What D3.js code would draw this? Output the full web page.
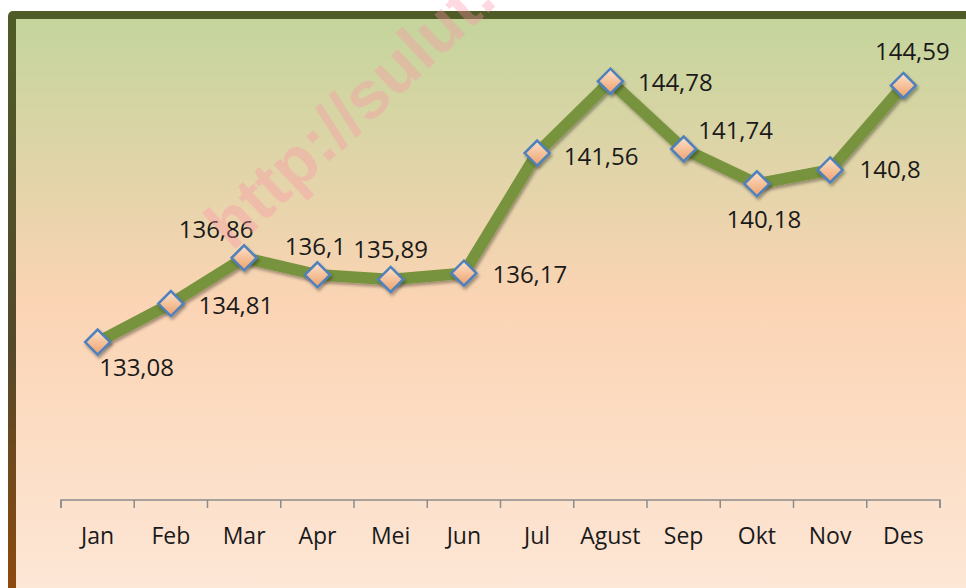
<!DOCTYPE html>
<html><head><meta charset="utf-8">
<script src="https://cdn.jsdelivr.net/npm/d3@7"></script>
<style>html,body{margin:0;padding:0;background:#fff;}svg{display:block;}</style>
</head><body>
<svg id="chart" width="966" height="588"></svg>
<script>
const months = ["Jan","Feb","Mar","Apr","Mei","Jun","Jul","Agust","Sep","Okt","Nov","Des"];
const values = [133.08,134.81,136.86,136.1,135.89,136.17,141.56,144.78,141.74,140.18,140.8,144.59];
const valueLabels = ["133,08","134,81","136,86","136,1","135,89","136,17","141,56","144,78","141,74","140,18","140,8","144,59"];
// label placement offsets relative to each point (layout only)
const labelOffsets = [[39,34],[65,10],[-28,-20],[-2,-20],[0,-21],[66,10],[64,12],[65,10],[52,-10],[7,44],[60,8],[9,-25]];

const W = 966, H = 588;
const svg = d3.select("#chart");
const defs = svg.append("defs");

const frameG = defs.append("linearGradient").attr("id","frameG").attr("x1",0).attr("y1",0).attr("x2",0).attr("y2",1);
frameG.append("stop").attr("offset","0%").attr("stop-color","#4f5c27");
frameG.append("stop").attr("offset","55%").attr("stop-color","#54482a");
frameG.append("stop").attr("offset","100%").attr("stop-color","#944a0a");

const bgG = defs.append("linearGradient").attr("id","bgG").attr("x1",0).attr("y1",0).attr("x2",0).attr("y2",1);
bgG.append("stop").attr("offset","0%").attr("stop-color","#c4d59c");
bgG.append("stop").attr("offset","48%").attr("stop-color","#fbd4b4");
bgG.append("stop").attr("offset","100%").attr("stop-color","#fde8d8");

const mkG = defs.append("linearGradient").attr("id","mkG").attr("x1",0).attr("y1",0).attr("x2",0).attr("y2",1);
mkG.append("stop").attr("offset","0%").attr("stop-color","#fde3cc");
mkG.append("stop").attr("offset","100%").attr("stop-color","#eea06a");

const sh = defs.append("filter").attr("id","shadow").attr("x","-50%").attr("y","-50%").attr("width","200%").attr("height","200%");
sh.append("feDropShadow").attr("dx",1.5).attr("dy",2.5).attr("stdDeviation",1.8).attr("flood-color","#000").attr("flood-opacity",0.35);

// frame
svg.append("rect").attr("x",8).attr("y",11).attr("width",W+20).attr("height",H+20).attr("rx",5).attr("fill","url(#frameG)");
svg.append("rect").attr("x",16).attr("y",19).attr("width",W).attr("height",H).attr("fill","url(#bgG)");

const x = d3.scaleBand().domain(months).range([61,940]).paddingInner(0).paddingOuter(0);
const y = d3.scaleLinear().domain([126,146]).range([500,54]);

// axis
const axis = d3.axisBottom(x).tickSize(8).tickSizeOuter(0).tickPadding(14);
const ax = svg.append("g").attr("transform","translate(0,500)").call(axis);
ax.select(".domain").attr("stroke","#8c8c8c").attr("stroke-width",1.5);
ax.selectAll(".tick line").remove();
const bounds = months.map(m => x(m)).concat([x(months[months.length-1]) + x.bandwidth()]);
ax.selectAll(".bnd").data(bounds).enter().append("line")
  .attr("x1",d=>d).attr("x2",d=>d).attr("y1",0).attr("y2",8)
  .attr("stroke","#8c8c8c").attr("stroke-width",1.5);
ax.select(".domain").attr("d",`M${bounds[0]},8V0H${bounds[bounds.length-1]}V8`);
ax.selectAll(".tick text").attr("font-family","'Open Sans', sans-serif").attr("font-size",23).attr("fill","#1a1a1a").attr("dy","0.95em");

const cx = (d,i) => x(months[i]) + x.bandwidth()/2;

// line
const line = d3.line().x((d,i)=>cx(d,i)).y(d=>y(d));
svg.append("path").datum(values).attr("d",line).attr("fill","none")
  .attr("stroke","#77933c").attr("stroke-width",11.5).attr("stroke-linejoin","miter")
  .attr("filter","url(#shadow)");

// markers
const s = 12.5;
svg.selectAll(".mk").data(values).enter().append("path")
  .attr("d",`M0,${-s}L${s},0L0,${s}L${-s},0Z`)
  .attr("transform",(d,i)=>`translate(${cx(d,i)},${y(d)})`)
  .attr("fill","url(#mkG)").attr("stroke","#4f81bd").attr("stroke-width",2.5)
  .attr("filter","url(#shadow)");

// labels
svg.selectAll(".lbl").data(values).enter().append("text")
  .attr("x",(d,i)=>cx(d,i)+labelOffsets[i][0])
  .attr("y",(d,i)=>y(d)+labelOffsets[i][1])
  .attr("text-anchor","middle")
  .attr("font-family","'Open Sans', sans-serif").attr("font-size",24).attr("fill","#1a1a1a")
  .text((d,i)=>valueLabels[i]);

// watermark
svg.append("text").attr("transform","translate(232,252) rotate(-43)")
  .attr("font-family","'Liberation Sans', Arial, sans-serif").attr("font-weight","bold").attr("font-size",67)
  .attr("fill","#ff8fa8").attr("fill-opacity",0.34)
  .text("http://sulut.");
</script>
</body></html>
